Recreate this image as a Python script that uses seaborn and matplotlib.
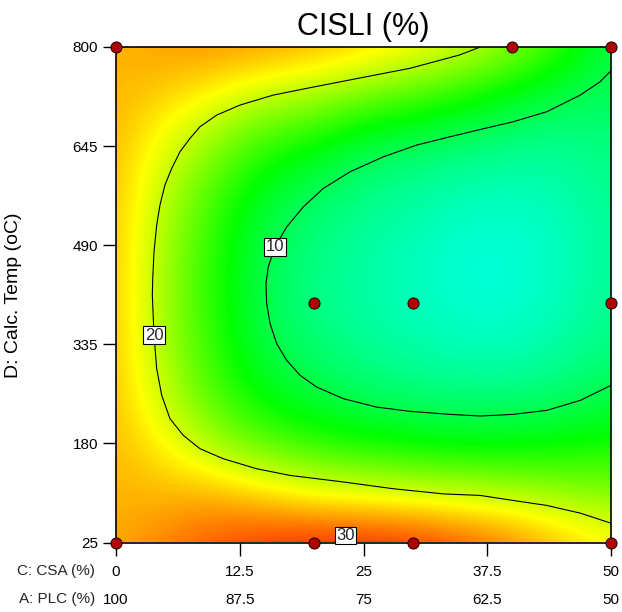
import numpy as np
import matplotlib
matplotlib.use('Agg')
import matplotlib.pyplot as plt
from matplotlib.colors import LinearSegmentedColormap
import seaborn as sns

# ---------- values -------------------------------------------------
# factor levels of the grid (C: CSA %, D: calcination temp)
csa_levels = [0, 5, 10, 15, 20, 25, 30, 35, 40, 45, 50]
temp_levels = [25, 102.5, 180, 257.5, 335, 412.5, 490, 567.5, 645, 722.5, 800]

# CISLI (%) estimates, one row per temperature level
cisli = [
    [25.0, 26.5, 28.0, 29.3, 29.9, 30.0, 29.5, 28.2, 26.5, 24.3, 22.3],
    [24.6, 24.5, 24.5, 23.0, 21.5, 20.8, 20.3, 19.8, 19.2, 18.3, 17.5],
    [24.4, 22.0, 18.5, 16.0, 14.5, 13.5, 12.8, 12.3, 12.3, 12.8, 13.5],
    [24.3, 19.6, 15.5, 12.3, 10.8, 9.6, 9.0, 8.6, 8.6, 9.3, 10.3],
    [24.2, 18.7, 14.3, 10.6, 9.0, 7.8, 7.0, 6.4, 6.3, 7.2, 8.6],
    [24.2, 18.5, 14.0, 10.1, 8.3, 7.2, 6.4, 5.6, 5.5, 6.4, 8.0],
    [24.2, 18.6, 14.2, 10.3, 8.6, 7.4, 6.5, 5.6, 5.5, 6.3, 7.8],
    [24.3, 19.4, 15.2, 11.5, 9.6, 8.4, 7.5, 6.6, 6.3, 6.8, 8.1],
    [24.4, 21.0, 17.8, 14.5, 13.0, 10.5, 9.8, 9.0, 8.3, 7.9, 8.7],
    [24.6, 23.5, 21.8, 19.8, 18.8, 17.0, 15.5, 13.8, 12.0, 10.4, 9.8],
    [24.5, 25.5, 25.8, 25.5, 24.8, 23.7, 22.3, 20.7, 18.0, 14.8, 10.5],
]

# contour lines (CSA %, temp)
c10_csa = [50, 48.9, 46.9, 43.5, 40.1, 36.8, 33.74, 30.37, 27.0, 23.64, 20.94,
           18.92, 17.24, 16.06, 15.38, 15.15, 15.22, 15.56, 16.23, 17.24, 18.59,
           20.27, 22.96, 26.33, 29.7, 33.74, 36.8, 40.1, 43.5, 46.9, 50]
c10_temp = [762.9, 745.7, 724.8, 698.7, 683, 671, 659.6, 646.6, 628.2, 604.8, 578.8,
            550, 518.6, 487.3, 456, 430, 398.7, 367.4, 336.1, 310, 286.5,
            268.1, 250, 236.8, 230.1, 225.4, 222.8, 225.4, 231.6, 247.3, 270.8]
c20_csa = [36.8, 34.7, 29.7, 22.8, 19.26, 15.89, 12.53, 10.17, 8.48, 7.47, 6.46,
           5.63, 4.94, 4.44, 4.11, 3.84, 3.71, 3.67, 3.84, 4.11, 4.62, 5.45, 6.8,
           8.48, 10.84, 14.2, 17.58, 22.8, 28.0, 33.1, 36.8, 40.1, 43.5, 46.9, 50]
c20_temp = [800, 787.5, 766.7, 746, 735.3, 724.8, 709.2, 693.5, 675.2, 657, 636.1,
            610.1, 584, 552.6, 521.3, 479.5, 437.9, 411.7, 349.1, 296.9, 255.1, 218.7, 192.5,
            171.7, 156, 140.4, 129.9, 120, 109.1, 101, 98.6, 90.8, 83, 70.9, 55.2]
c30_csa = [22.1, 22.5, 23.2, 23.9, 24.3]
c30_temp = [25, 33, 36, 33, 25]

# design points
run_csa = [0, 40, 50, 20, 30, 50, 0, 20, 30, 50]
run_temp = [800, 800, 800, 400, 400, 400, 25, 25, 25, 25]

csa_ticks = [0, 12.5, 25, 37.5, 50]
csa_labels = ['0', '12.5', '25', '37.5', '50']
plc_ticks = [100, 87.5, 75, 62.5, 50]
plc_labels = ['100', '87.5', '75', '62.5', '50']
temp_ticks = [25, 180, 335, 490, 645, 800]

# ---------- plot -------------------
sns.set_theme(style='white')
plt.rcParams['font.family'] = ['Liberation Sans', 'DejaVu Sans']

fig = plt.figure(figsize=(6.22, 6.12), dpi=100)
ax = fig.add_axes([116/622, 1 - 542.5/612, 495/622, 495.5/612])

# design-expert style rainbow
de_cmap = LinearSegmentedColormap.from_list(
    'de', ['#0000ff', '#00ffff', '#00ff00', '#ffff00', '#ff0000'])

z = np.array(cisli)
dc = (csa_levels[1] - csa_levels[0]) / 2
dt = (temp_levels[1] - temp_levels[0]) / 2
ax.imshow(z, origin='lower', cmap=de_cmap, vmin=-5, vmax=31,
          extent=[csa_levels[0] - dc, csa_levels[-1] + dc,
                  temp_levels[0] - dt, temp_levels[-1] + dt],
          aspect='auto', interpolation='bicubic', interpolation_stage='data')

# contour lines + labels (label sits on one traced vertex)
contours = [(c10_csa, c10_temp, '10', 13),
            (c20_csa, c20_temp, '20', 18),
            (c30_csa, c30_temp, '30', 2)]
for xs, ys, lab, i in contours:
    ax.plot(xs, ys, color='black', lw=0.8, zorder=3)
    ax.text(xs[i], ys[i], lab, ha='center', va='center', fontsize=12, zorder=4,
            bbox=dict(boxstyle='square,pad=0.08', fc='white', ec='black', lw=0.8))

sns.scatterplot(x=run_csa, y=run_temp, color='#b00000', edgecolor='black',
                linewidth=0.6, s=65, zorder=5, clip_on=False, ax=ax)

ax.set_xlim(0, 50)
ax.set_ylim(25, 800)
ax.set_xticks(csa_ticks)
ax.set_xticklabels(csa_labels)
ax.set_yticks(temp_ticks)
ax.set_yticklabels([str(t) for t in temp_ticks])
ax.tick_params(axis='x', direction='out', length=9.5, width=1, pad=6.5,
               labelsize=11, colors='black', bottom=True)
ax.tick_params(axis='y', direction='out', length=9.5, width=1, pad=3.5,
               labelsize=11, colors='black', left=True)
for sp in ax.spines.values():
    sp.set_color('black')
    sp.set_linewidth(1.2)

# second row of x labels: A = 100 - C
secax = ax.secondary_xaxis('bottom', functions=(lambda c: 100 - c, lambda a: 100 - a))
secax.set_xticks(plc_ticks)
secax.set_xticklabels(plc_labels)
secax.tick_params(length=0, pad=36, labelsize=11, colors='black')
secax.spines['bottom'].set_visible(False)

fig.text(95/622, 1 - 571.5/612, 'C: CSA (%)', ha='right', va='center', fontsize=11)
fig.text(95/622, 1 - 599/612, 'A: PLC (%)', ha='right', va='center', fontsize=11)

ax.set_ylabel('D: Calc. Temp (oC)', fontsize=14, color='black')
ax.yaxis.set_label_coords(-0.19, 0.5)
ax.set_title('CISLI (%)', fontsize=22, color='black', pad=9)

plt.savefig('out.png', dpi=100)
plt.close()
